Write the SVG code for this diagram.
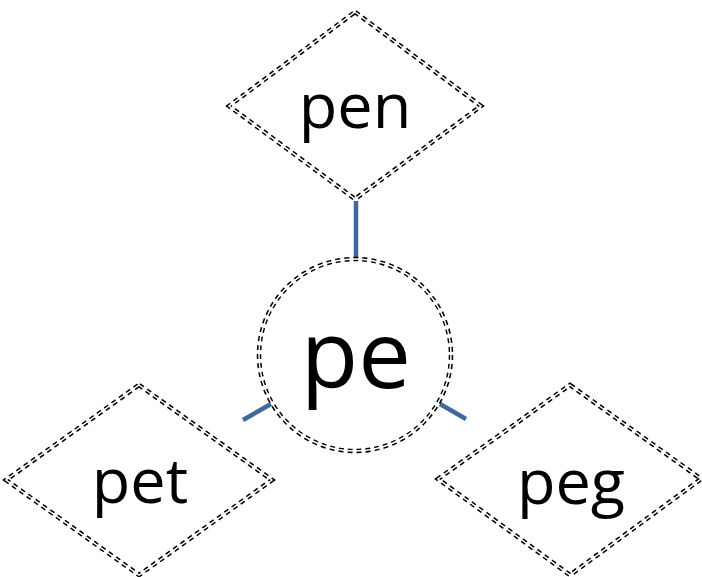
<svg xmlns="http://www.w3.org/2000/svg" width="702" height="577" viewBox="0 0 702 577">
<style>
.outer{fill:none;stroke:#000;stroke-width:4.5;stroke-dasharray:5 4}
.inner{fill:none;stroke:#fff;stroke-width:1.5}
.lbl{font-family:"Open Sans","Noto Sans",sans-serif;fill:#000;text-anchor:middle}
.conn{stroke:#41689c;stroke-width:4.5;fill:none}
</style>
<rect width="702" height="577" fill="#fff"/>
<g id="connectors">
<line class="conn" x1="356" y1="201" x2="356" y2="260"/>
<line class="conn" x1="243" y1="420" x2="271" y2="404"/>
<line class="conn" x1="440" y1="404" x2="466" y2="419"/>
</g>
<g id="node-pe">
<circle class="outer" cx="355" cy="355" r="96"/>
<circle class="inner" cx="355" cy="355" r="96"/>
<text class="lbl" x="356" y="388" font-size="94">pe</text>
</g>
<g id="node-pen">
<polygon class="outer" points="355,12 481,106 355,199 229,106"/>
<polygon class="inner" points="355,12 481,106 355,199 229,106"/>
<text class="lbl" x="355" y="128" font-size="63">pen</text>
</g>
<g id="node-pet">
<polygon class="outer" points="139,385 272,480 139,575 6,480"/>
<polygon class="inner" points="139,385 272,480 139,575 6,480"/>
<text class="lbl" x="140" y="503" font-size="63">pet</text>
</g>
<g id="node-peg">
<polygon class="outer" points="570,385 701,479 570,575 438,479"/>
<polygon class="inner" points="570,385 701,479 570,575 438,479"/>
<text class="lbl" x="571" y="504" font-size="63">peg</text>
</g>
</svg>
